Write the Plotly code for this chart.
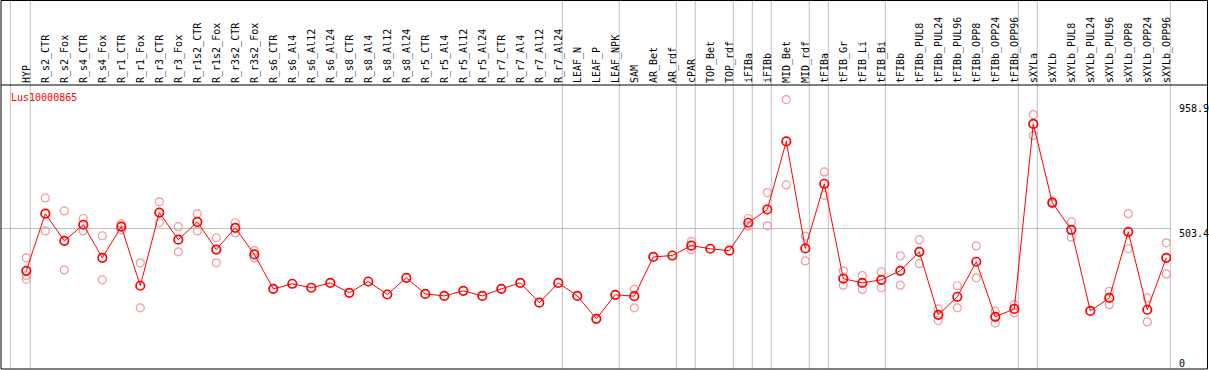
import plotly.graph_objects as go

categories = ["HYP", "R_s2_CTR", "R_s2_Fox", "R_s4_CTR", "R_s4_Fox", "R_r1_CTR", "R_r1_Fox",
              "R_r3_CTR", "R_r3_Fox", "R_r1s2_CTR", "R_r1s2_Fox", "R_r3s2_CTR", "R_r3s2_Fox",
              "R_s6_CTR", "R_s6_Al4", "R_s6_Al12", "R_s6_Al24", "R_s8_CTR", "R_s8_Al4", "R_s8_Al12",
              "R_s8_Al24", "R_r5_CTR", "R_r5_Al4", "R_r5_Al12", "R_r5_Al24", "R_r7_CTR", "R_r7_Al4",
              "R_r7_Al12", "R_r7_Al24", "LEAF_N", "LEAF_P", "LEAF_NPK", "SAM", "AR_Bet", "AR_rdf",
              "cPAR", "TOP_Bet", "TOP_rdf", "iFIBa", "iFIBb", "MID_Bet", "MID_rdf", "tFIBa",
              "tFIB_Gr", "tFIB_Li", "tFIB_Bi", "tFIBb", "tFIBb_PUL8", "tFIBb_PUL24", "tFIBb_PUL96",
              "tFIBb_OPP8", "tFIBb_OPP24", "tFIBb_OPP96", "sXYLa", "sXYLb", "sXYLb_PUL8",
              "sXYLb_PUL24", "sXYLb_PUL96", "sXYLb_OPP8", "sXYLb_OPP24", "sXYLb_OPP96"]

mean_values = [353, 555, 459, 516, 399, 509, 300, 559, 463, 526, 428, 505, 411,
               289, 307, 293, 310, 275, 315, 269, 328, 271, 264, 282, 264, 289, 310,
               240, 310, 264, 183, 268, 263, 402, 407, 442, 431, 424, 523, 570, 811,
               432, 661, 325, 310, 321, 353, 420, 197, 261, 385, 190, 218, 873, 594,
               498, 211, 257, 491, 215, 399]

rep_a = [399, 611, 565, 538, 477, 519, 381, 597, 509, 555, 470, 523, 424,
         None, None, None, None, None, None, None, None, None, None, None, None, None, None,
         None, None, None, None, None, 287, None, None, 457, None, None, 538, 630, 958.9,
         476, 703, 353, 336, 349, 406, 463, 218, 300, 441, 211, 233, 906, 597,
         526, None, 280, 555, 257, 452]

rep_b = [336, 494, 356, 494, 321, 498, 222, 523, 420, 494, 381, 487, 398,
         None, None, None, None, None, None, None, None, None, None, None, None, None, None,
         None, None, None, None, None, 222, None, None, 427, None, None, 511, 512, 657,
         388, 620, 302, 287, 293, 302, 378, 177, 222, 328, 168, 204, 832, 590,
         472, None, 233, 431, 172, 342]

rep_c = [323] + [None] * 60

y_labels = ["958.9", "503.4", "0"]
y_label_values = [958.9, 503.4, 0]
gene_name = "Lus10000865"

# separators between sample groups (positioned after these categories)
separator_after = [-1, 0, 28, 31, 34, 35, 37, 38, 39, 41, 42, 45, 52, 53, 60]

W, H = 1209, 370
L, R, T, B = 1, 38, 85, 1
PW, PH = W - L - R, H - T - B
SPACING = 19.0
FIRST_X = 26.3
FONT = "DejaVu Sans Mono"


def xp(px):
    return (px - L) / PW


def yp(py):
    return (H - B - py) / PH


x0r = -(FIRST_X - L) / SPACING
x1r = x0r + PW / SPACING
scale = 0.2825
y0r = 1.5 / scale
y1r = y0r + PH / scale


def ypix(v):
    # pixel row of a data value (used only to place the axis value labels)
    return (H - B) - (v - y0r) * scale


fig = go.Figure()

rx, ry = [], []
for reps in (rep_a, rep_b, rep_c):
    for c, v in zip(categories, reps):
        if v is not None:
            rx.append(c)
            ry.append(v)

fig.add_trace(go.Scatter(
    x=rx, y=ry, mode="markers",
    marker=dict(symbol="circle-open", size=8, color="#f09a9a", line=dict(width=1.2)),
    hoverinfo="skip", showlegend=False))

fig.add_trace(go.Scatter(
    x=categories, y=mean_values, mode="lines+markers",
    line=dict(color="#ff0000", width=1),
    marker=dict(symbol="circle-open", size=8.5, color="#ff0000", line=dict(width=1.7)),
    showlegend=False))

shapes = []
for s in separator_after:
    xs = s + 0.21 if s >= 0 else -0.84
    shapes.append(dict(type="line", xref="x", yref="paper", x0=xs, x1=xs,
                       y0=yp(369), y1=yp(0), line=dict(color="#c0c0c0", width=1), layer="below"))
# frame
for py in (0.5, 85, 369):
    shapes.append(dict(type="line", xref="paper", yref="paper", x0=xp(1), x1=xp(1207.5),
                       y0=yp(py), y1=yp(py), line=dict(color="black", width=1)))
for px in (1, 1207.5):
    shapes.append(dict(type="line", xref="paper", yref="paper", x0=xp(px), x1=xp(px),
                       y0=yp(369), y1=yp(0.5), line=dict(color="black", width=1)))

annotations = [dict(text=gene_name, xref="paper", yref="paper", x=xp(8.5), y=yp(97),
                    xanchor="left", yanchor="middle", showarrow=False,
                    font=dict(family=FONT, size=10, color="#ff0000"))]
shifts = [9, 5, -7]
for t, v, sh in zip(y_labels, y_label_values, shifts):
    annotations.append(dict(text=t, xref="paper", yref="paper", x=xp(1177), y=yp(ypix(v) + sh),
                            xanchor="left", yanchor="middle", showarrow=False,
                            font=dict(family=FONT, size=10, color="black")))

fig.update_layout(
    width=W, height=H,
    margin=dict(l=L, r=R, t=T, b=B, pad=0, autoexpand=False),
    paper_bgcolor="white", plot_bgcolor="white",
    shapes=shapes, annotations=annotations,
    xaxis=dict(type="category", categoryorder="array", categoryarray=categories,
               range=[x0r, x1r], side="top", tickangle=-90, automargin=False,
               ticks="", showgrid=False, zeroline=False, showline=False,
               tickfont=dict(family=FONT, size=10, color="black"),
               ticklabelstandoff=1),
    yaxis=dict(range=[y0r, y1r], tickvals=[503.4], showticklabels=False, automargin=False,
               showgrid=True, gridcolor="#c0c0c0", gridwidth=1, zeroline=False,
               showline=False, ticks=""),
)

fig.write_html("out.html", config={"displayModeBar": False},
               post_script="document.body.style.margin='0';document.body.style.overflow='hidden';")
